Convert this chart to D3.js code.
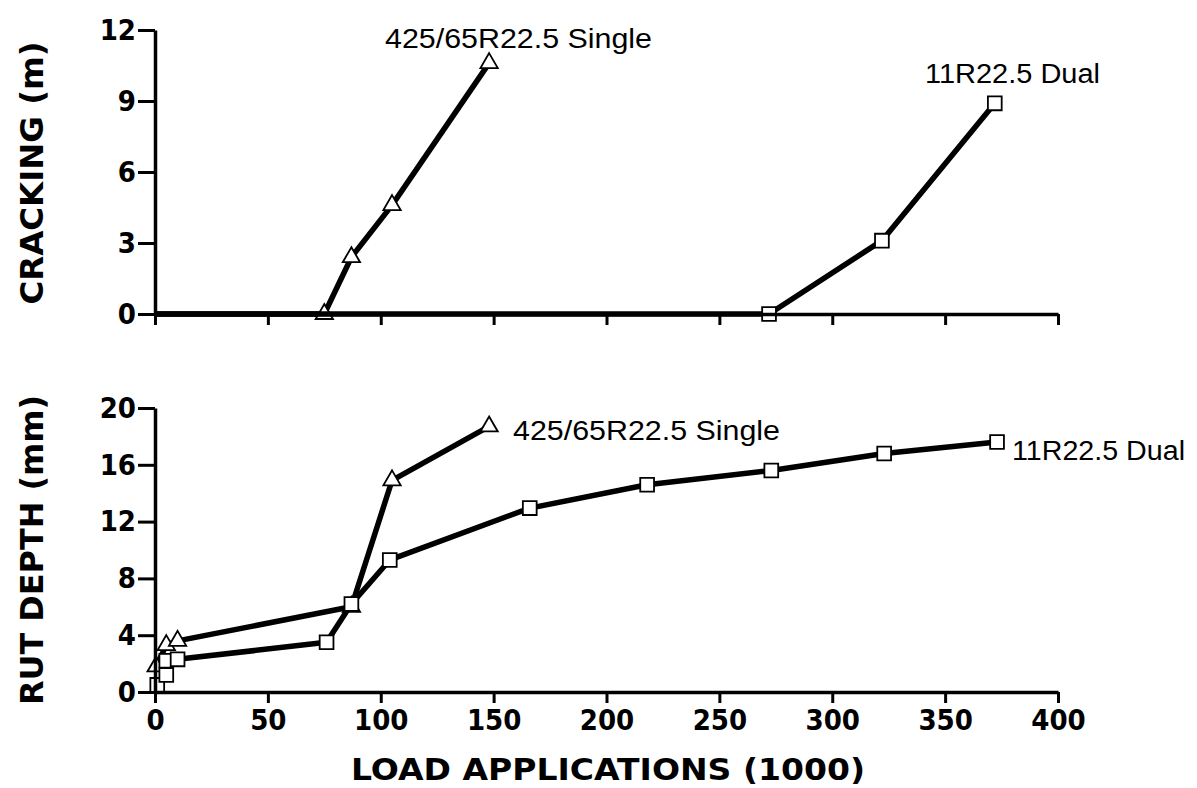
<!DOCTYPE html>
<html>
<head>
<meta charset="utf-8">
<script src="https://cdn.jsdelivr.net/npm/d3@7/dist/d3.min.js"></script>
<style>
  html, body { margin: 0; padding: 0; background: #fff; }
  svg { display: block; }
  .tick text { font-family: "Liberation Sans Narrow", "DejaVu Sans Condensed", "Liberation Sans", sans-serif; font-weight: bold; font-size: 29px; fill: #000; }
  .axis-title { font-family: "DejaVu Sans", "Liberation Sans", sans-serif; font-weight: bold; fill: #000; }
  .series-label { font-family: "Liberation Sans", Arial, sans-serif; fill: #000; }
</style>
</head>
<body>
<svg id="chart" width="1197" height="788"></svg>
<script>
// Load applications (thousands) and cracking length (m)
const crackSingleLoad = [0, 75, 87, 105, 148];
const crackSingleVal  = [0, 0, 2.4, 4.6, 10.6];
const crackDualLoad   = [0, 272, 322, 372];
const crackDualVal    = [0, 0, 3.1, 8.9];

// Load applications (thousands) and rut depth (mm)
const rutSingleLoad = [0.5, 5, 10, 87, 105, 148];
const rutSingleVal  = [1.8, 3.3, 3.6, 6.0, 14.9, 18.7];
const rutDualLoad   = [1, 5, 5, 10, 76, 87, 104, 166, 218, 273, 323, 373];
const rutDualVal    = [0.5, 1.2, 2.2, 2.3, 3.5, 6.2, 9.3, 12.95, 14.6, 15.6, 16.8, 17.6];

// Axis ticks
const xTicks = [0, 50, 100, 150, 200, 250, 300, 350, 400];
const crackTicks = [0, 3, 6, 9, 12];
const rutTicks = [0, 4, 8, 12, 16, 20];

const singleName = "425/65R22.5 Single";
const dualName = "11R22.5 Dual";

const svg = d3.select("#chart");

const x = d3.scaleLinear().domain([0, 400]).range([155, 1058]);
const yCrack = d3.scaleLinear().domain([0, 12]).range([314, 30]);
const yRut = d3.scaleLinear().domain([0, 20]).range([692, 408]);

const zip = (xs, ys) => xs.map((v, i) => ({ x: v, y: ys[i] }));

// Line with open markers; the starting point at the origin carries no marker
function drawSeries(data, y, shape) {
  const line = d3.line().x(d => x(d.x)).y(d => y(d.y));
  svg.append("path")
    .datum(data)
    .attr("d", line)
    .attr("fill", "none")
    .attr("stroke", "#000")
    .attr("stroke-width", 5.5)
    .attr("stroke-linejoin", "round");
  const sym = d3.symbol()
    .type(shape === "tri" ? d3.symbolTriangle : d3.symbolSquare)
    .size(shape === "tri" ? 130 : 190);
  svg.append("g").selectAll("path")
    .data(data.filter(d => d.x > 0))
    .join("path")
    .attr("transform", d => `translate(${x(d.x)},${y(d.y)})`)
    .attr("d", sym)
    .attr("fill", "#fff")
    .attr("stroke", "#000")
    .attr("stroke-width", 1.8);
}

drawSeries(zip(crackSingleLoad, crackSingleVal), yCrack, "tri");
drawSeries(zip(crackDualLoad, crackDualVal), yCrack, "sq");
drawSeries(zip(rutSingleLoad, rutSingleVal), yRut, "tri");
drawSeries(zip(rutDualLoad, rutDualVal), yRut, "sq");

function styleAxis(g) {
  g.select(".domain").attr("stroke", "#000").attr("stroke-width", 3.5);
  g.selectAll(".tick line").attr("stroke", "#000").attr("stroke-width", 3);
}

// Top panel axes
svg.append("g")
  .attr("transform", `translate(0,${yCrack(0)})`)
  .call(d3.axisBottom(x).tickValues(xTicks).tickSize(11).tickSizeOuter(0).tickFormat(""))
  .call(styleAxis);
svg.append("g")
  .attr("transform", `translate(${x(0)},0)`)
  .call(d3.axisLeft(yCrack).tickValues(crackTicks).tickSize(17).tickSizeOuter(0).tickPadding(2))
  .call(styleAxis);

// Bottom panel axes
svg.append("g")
  .attr("transform", `translate(0,${yRut(0)})`)
  .call(d3.axisBottom(x).tickValues(xTicks).tickSize(11).tickSizeOuter(0).tickPadding(6))
  .call(styleAxis);
svg.append("g")
  .attr("transform", `translate(${x(0)},0)`)
  .call(d3.axisLeft(yRut).tickValues(rutTicks).tickSize(17).tickSizeOuter(0).tickPadding(2))
  .call(styleAxis);

svg.selectAll(".tick text").attr("font-family", null).attr("font-size", null);

// Axis titles
svg.append("text").attr("class", "axis-title")
  .attr("transform", "translate(43,173) rotate(-90)")
  .attr("text-anchor", "middle")
  .attr("font-size", 32)
  .attr("textLength", 263).attr("lengthAdjust", "spacingAndGlyphs")
  .text("CRACKING (m)");
svg.append("text").attr("class", "axis-title")
  .attr("transform", "translate(43,550) rotate(-90)")
  .attr("text-anchor", "middle")
  .attr("font-size", 32)
  .attr("textLength", 310).attr("lengthAdjust", "spacingAndGlyphs")
  .text("RUT DEPTH (mm)");
svg.append("text").attr("class", "axis-title")
  .attr("x", 608).attr("y", 780)
  .attr("text-anchor", "middle")
  .attr("font-size", 30)
  .attr("textLength", 514).attr("lengthAdjust", "spacingAndGlyphs")
  .text("LOAD APPLICATIONS (1000)");

// Series labels
function label(txt, px, py, len) {
  svg.append("text").attr("class", "series-label")
    .attr("x", px).attr("y", py)
    .attr("font-size", 27)
    .attr("textLength", len).attr("lengthAdjust", "spacingAndGlyphs")
    .text(txt);
}
label(singleName, 385, 48, 267);
label(dualName, 925, 83, 175);
label(singleName, 513, 440, 267);
label(dualName, 1012, 460, 173);
</script>
</body>
</html>
